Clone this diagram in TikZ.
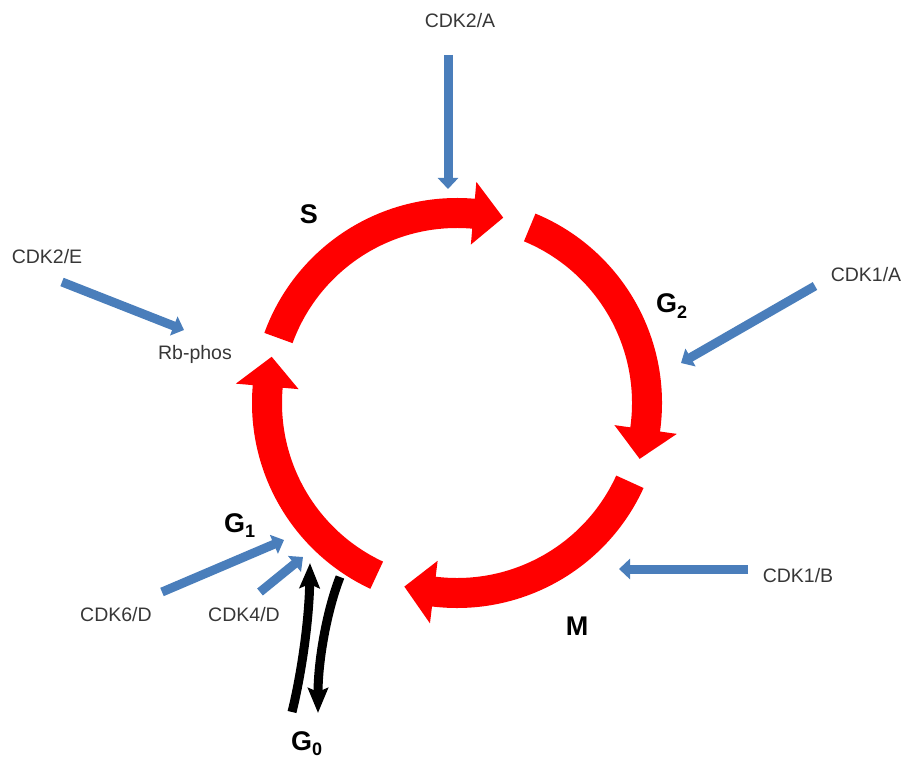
\documentclass[tikz,border=0pt]{standalone}
\usepackage{fontspec}
\setmainfont{Liberation Sans}
\usetikzlibrary{arrows.meta}
\definecolor{cdkblue}{RGB}{74,126,187}
\definecolor{cyclered}{RGB}{255,0,0}
\definecolor{labelgray}{RGB}{55,55,55}
\tikzset{
  cdklabel/.style={font=\fontsize{19.5}{19.5}\selectfont, text=labelgray, inner sep=0pt, anchor=base},
  phaselabel/.style={font=\fontsize{27}{27}\selectfont\bfseries, inner sep=0pt, anchor=base},
  cdkarrow/.style={draw=cdkblue, line width=9pt, -{Triangle[width=20pt,length=11pt]}},
  gzeroarrow/.style={draw=black, line width=9pt, -{Stealth[width=20pt,length=25pt,inset=4pt]}},
  redarc/.style={fill=cyclered}
}
\newcommand{\subdig}[1]{\raisebox{-0.22em}{\fontsize{18}{18}\selectfont #1}}
\begin{document}
\begin{tikzpicture}[x=1pt,y=-1pt]
\useasboundingbox (0,0) rectangle (903,759);

% red cycle arcs
\begin{scope}[shift={(457,403)}, yscale=-1]
  % S
  \fill[redarc] (160:205) arc[start angle=160, end angle=85, radius=205] -- (85:222) -- (76:191) -- (85:159) -- (85:175) arc[start angle=85, end angle=160, radius=175] -- cycle;
  % G2
  \fill[redarc] (67.5:205) arc[start angle=67.5, end angle=-8, radius=205] -- (-8:222) -- (-17:191) -- (-8:159) -- (-8:175) arc[start angle=-8, end angle=67.5, radius=175] -- cycle;
  % M
  \fill[redarc] (-24.5:205) arc[start angle=-24.5, end angle=-97, radius=205] -- (-97:222) -- (-106:191) -- (-97:159) -- (-97:175) arc[start angle=-97, end angle=-24.5, radius=175] -- cycle;
  % G1
  \fill[redarc] (245:205) arc[start angle=245, end angle=175, radius=205] -- (175:222) -- (166:191) -- (175:159) -- (175:175) arc[start angle=175, end angle=245, radius=175] -- cycle;
\end{scope}

% labels
\node[cdklabel] (cdk2a) at (460,28) {CDK2/A};
\node[cdklabel] (cdk2e) at (47,264) {CDK2/E};
\node[cdklabel] (rbphos) at (195,360) {Rb-phos};
\node[cdklabel] (cdk1a) at (866,282) {CDK1/A};
\node[cdklabel] (cdk1b) at (798,582) {CDK1/B};
\node[cdklabel] (cdk6d) at (116,621) {CDK6/D};
\node[cdklabel] (cdk4d) at (244,621) {CDK4/D};

\node[phaselabel] (s) at (309,224) {S};
\node[phaselabel, anchor=base west] (g2) at (656,313) {G\subdig{2}};
\node[phaselabel] (m) at (577,635) {M};
\node[phaselabel, anchor=base west] (g1) at (224,532) {G\subdig{1}};
\node[phaselabel, anchor=base west] (g0) at (291,750) {G\subdig{0}};

% blue arrow end points
\coordinate (a2aT) at (448,55);   \coordinate (a2aH) at (448,189);
\coordinate (a2eT) at (62,282);   \coordinate (a2eH) at (184,330);
\coordinate (a1aT) at (815,286);  \coordinate (a1aH) at (681,363);
\coordinate (a1bT) at (748,569);  \coordinate (a1bH) at (619,569);
\coordinate (a6dT) at (162,592);  \coordinate (a6dH) at (284,540);
\coordinate (a4dT) at (260,592);  \coordinate (a4dH) at (303,557);

\draw[cdkarrow] (a2aT) -- (a2aH);
\draw[cdkarrow] (a2eT) -- (a2eH);
\draw[cdkarrow] (a1aT) -- (a1aH);
\draw[cdkarrow] (a1bT) -- (a1bH);
\draw[cdkarrow] (a6dT) -- (a6dH);
\draw[cdkarrow] (a4dT) -- (a4dH);

% G0 arrows
\coordinate (upT) at (292,712);  \coordinate (upH) at (310,563);
\coordinate (dnT) at (340,577);  \coordinate (dnH) at (318,713);
\draw[gzeroarrow] (upT) .. controls (300,680) and (309,625) .. (upH);
\draw[gzeroarrow] (dnT) .. controls (327,610) and (318,660) .. (dnH);
\end{tikzpicture}
\end{document}
